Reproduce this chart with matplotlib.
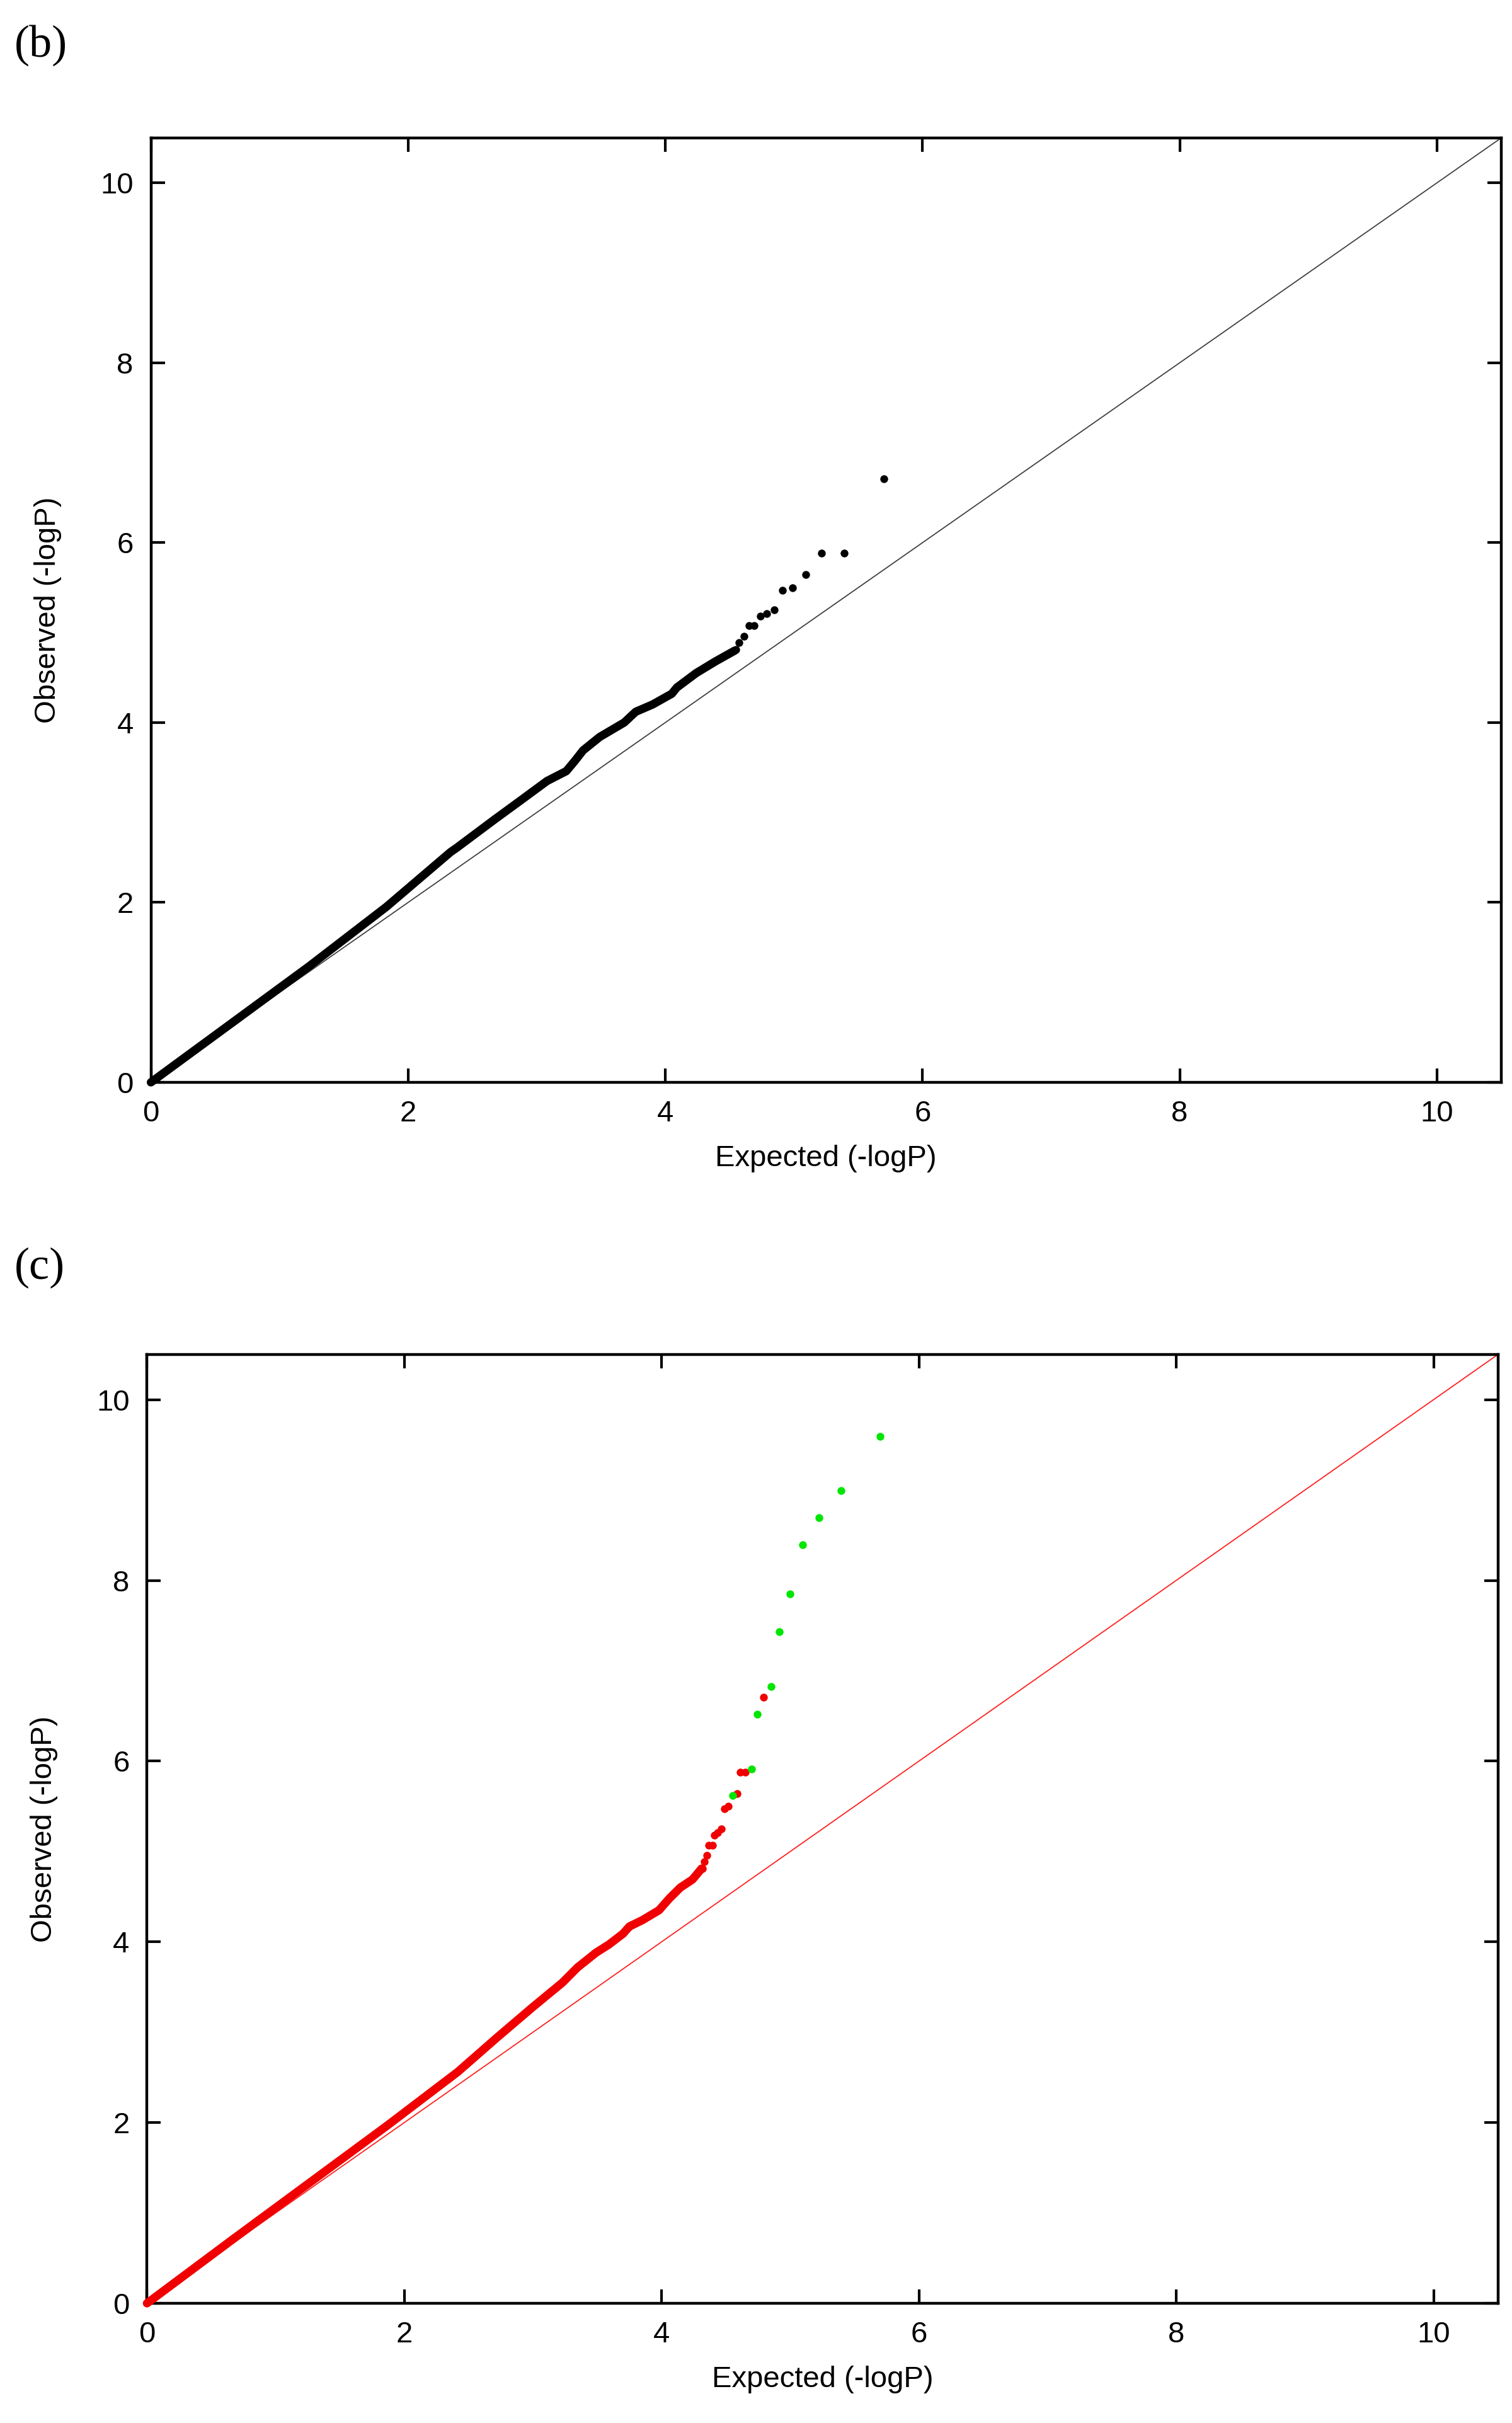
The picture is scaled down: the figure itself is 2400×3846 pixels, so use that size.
import numpy as np
import matplotlib
matplotlib.use("Agg")
import matplotlib.pyplot as plt

# ---- panel (b): dense band of observed vs expected (-logP)
b_band_x = [0.00, 0.62, 1.23, 1.83, 2.33, 2.38, 2.67, 2.89, 3.08, 3.23, 3.30, 3.36, 3.49,
            3.68, 3.77, 3.90, 4.05, 4.09, 4.24, 4.39, 4.54]
b_band_y = [0.00, 0.65, 1.29, 1.95, 2.56, 2.61, 2.92, 3.15, 3.35, 3.46, 3.58, 3.69, 3.84,
            4.00, 4.12, 4.20, 4.32, 4.39, 4.55, 4.68, 4.80]

# single points in the tail of (b)
b_tail_x = [5.70, 5.39, 5.215, 5.09, 4.99, 4.91, 4.845, 4.79, 4.74, 4.69, 4.65, 4.61, 4.575, 4.55]
b_tail_y = [6.71, 5.88, 5.88, 5.645, 5.50, 5.47, 5.25, 5.21, 5.18, 5.08, 5.08, 4.96, 4.89, 4.81]

# ---- panel (c)
c_band_x = [0.00, 0.65, 1.26, 1.87, 2.415, 2.72, 3.00, 3.23, 3.345, 3.49, 3.59, 3.70,
            3.75, 3.85, 3.98, 4.06, 4.145, 4.24, 4.31]
c_band_y = [0.00, 0.69, 1.33, 1.97, 2.56, 2.94, 3.28, 3.55, 3.715, 3.88, 3.97, 4.09,
            4.17, 4.24, 4.35, 4.48, 4.60, 4.69, 4.81]

c_red_x = [4.79, 4.65, 4.61, 4.586, 4.52, 4.487, 4.463, 4.435, 4.41, 4.397, 4.365, 4.354, 4.33, 4.316]
c_red_y = [6.71, 5.88, 5.88, 5.64, 5.50, 5.47, 5.25, 5.21, 5.18, 5.07, 5.07, 4.96, 4.89, 4.81]

c_green_x = [5.698, 5.396, 5.222, 5.094, 4.997, 4.917, 4.851, 4.742, 4.697, 4.55]
c_green_y = [9.593, 8.997, 8.692, 8.392, 7.847, 7.435, 6.823, 6.519, 5.91, 5.622]

ticks = [0, 2, 4, 6, 8, 10]
lim = 10.5

fig = plt.figure(figsize=(24, 38.46), dpi=100)
ax_b = fig.add_axes([0.0998, 0.5533, 0.8931, 0.3898])
ax_c = fig.add_axes([0.0972, 0.0494, 0.8935, 0.3916])

sans = "Liberation Sans"
serif = "Liberation Serif"


def style_axes(ax):
    ax.set_xlim(0, lim)
    ax.set_ylim(0, lim)
    ax.set_xticks(ticks)
    ax.set_yticks(ticks)
    ax.tick_params(direction="in", length=16, width=3, pad=20,
                   top=True, right=True, labelsize=34)
    for lab in ax.get_xticklabels() + ax.get_yticklabels():
        lab.set_family(sans)
    for sp in ax.spines.values():
        sp.set_linewidth(3.2)
    ax.set_xlabel("Expected (-logP)", fontsize=34, family=sans)
    ax.set_ylabel("Observed (-logP)", fontsize=34, family=sans)
    ax.xaxis.set_label_coords(0.5, -0.066)
    ax.yaxis.set_label_coords(-0.066, 0.5)


# (b)
style_axes(ax_b)
ax_b.plot([0, lim], [0, lim], color="#404040", lw=1.3, zorder=2)
ax_b.plot(b_band_x, b_band_y, color="black", lw=9.5, solid_capstyle="round",
          solid_joinstyle="round", zorder=3, clip_on=False)
ax_b.scatter(b_tail_x, b_tail_y, s=80, color="black", linewidths=0, zorder=4)

# (c)
style_axes(ax_c)
ax_c.plot([0, lim], [0, lim], color="#ff2020", lw=1.3, zorder=2)
ax_c.plot(c_band_x, c_band_y, color="#f00000", lw=9.5, solid_capstyle="round",
          solid_joinstyle="round", zorder=3, clip_on=False)
ax_c.scatter(c_red_x, c_red_y, s=80, color="#f00000", linewidths=0, zorder=4)
ax_c.scatter(c_green_x, c_green_y, s=80, color="#00e600", linewidths=0, zorder=5)

fig.text(0.0096, 0.9766, "(b)", fontsize=52, family=serif, va="baseline", ha="left")
fig.text(0.0096, 0.4722, "(c)", fontsize=52, family=serif, va="baseline", ha="left")

fig.savefig("out.png", dpi=100)
